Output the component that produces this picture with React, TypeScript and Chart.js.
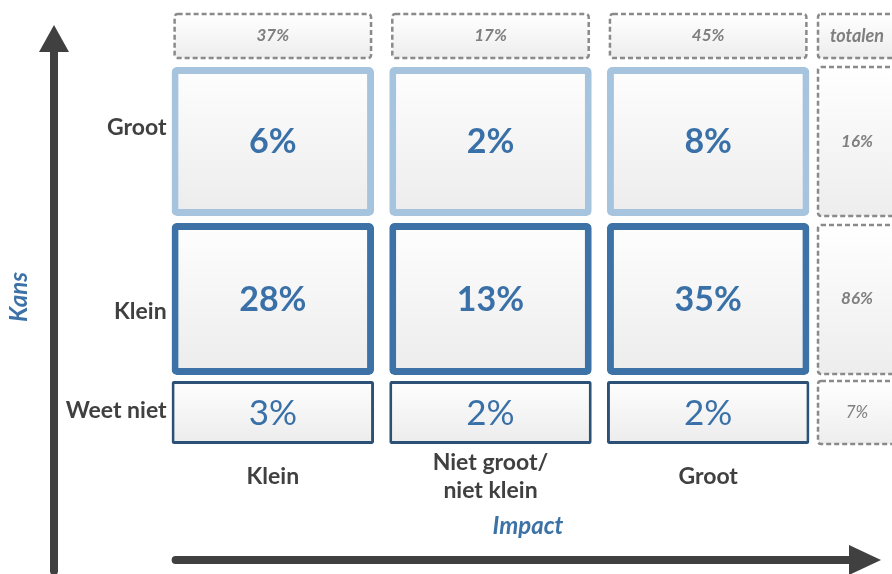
import React, { useEffect, useRef } from 'react';
import { Chart, registerables } from 'chart.js';

Chart.register(...registerables);

// ---------- data ----------
const IMPACT_LABELS = ['Klein', 'Niet groot/\nniet klein', 'Groot'];
const KANS_LABELS = ['Groot', 'Klein', 'Weet niet'];
const ROW_GROOT = [6, 2, 8];
const ROW_KLEIN = [28, 13, 35];
const ROW_WEET_NIET = [3, 2, 2];
const IMPACT_TOTALS = [37, 17, 45];
const KANS_TOTALS = [16, 86, 7];
const TOTALS_LABEL = 'totalen';
const X_TITLE = 'Impact';
const Y_TITLE = 'Kans';

// ---------- layout (y units: 0 = bottom of the lowest row) ----------
const ROW_BANDS: [number, number][] = [[228, 377], [69, 221], [0, 63]];
const TOTALS_BAND: [number, number] = [386, 430];
const Y_MAX = 430;
const ROW_LABEL_POS = [316, 132, 33];
const FONT = 'Lato, "Open Sans", sans-serif';

const ROW_VALUES = [ROW_GROOT, ROW_KLEIN, ROW_WEET_NIET];
const ROW_BORDER = ['#a7c4df', '#3d72a6', '#2d5077'];
const ROW_BORDER_W = [7, 7, 3];

function vGradient(ctx: CanvasRenderingContext2D, top: number, bottom: number, c1: string, c2: string) {
  const g = ctx.createLinearGradient(0, top, 0, bottom);
  g.addColorStop(0, c1);
  g.addColorStop(1, c2);
  return g;
}

const cellFill = (c: any) => {
  const chart = c.chart;
  const y = chart.scales && chart.scales.y;
  if (!y || c.type !== 'data' || !Array.isArray(c.raw)) return '#f4f4f4';
  const top = y.getPixelForValue(c.raw[1]);
  const bottom = y.getPixelForValue(c.raw[0]);
  if (!isFinite(top) || !isFinite(bottom)) return '#f4f4f4';
  return vGradient(chart.ctx, top, bottom, '#fefefe', '#ececec');
};

function dashedBox(ctx: CanvasRenderingContext2D, x: number, y: number, w: number, h: number) {
  ctx.save();
  ctx.beginPath();
  (ctx as any).roundRect(x, y, w, h, 3);
  ctx.fillStyle = vGradient(ctx, y, y + h, '#ffffff', '#ededed');
  ctx.fill();
  ctx.setLineDash([5, 3]);
  ctx.lineWidth = 2.5;
  ctx.strokeStyle = '#8a8a8a';
  ctx.stroke();
  ctx.restore();
}

function arrow(ctx: CanvasRenderingContext2D, x1: number, y1: number, x2: number, y2: number, headLen: number, headHalf: number, lw: number, color: string) {
  const ang = Math.atan2(y2 - y1, x2 - x1);
  const bx = x2 - Math.cos(ang) * headLen;
  const by = y2 - Math.sin(ang) * headLen;
  ctx.save();
  ctx.strokeStyle = color;
  ctx.fillStyle = color;
  ctx.lineWidth = lw;
  ctx.lineCap = 'round';
  ctx.beginPath();
  ctx.moveTo(x1, y1);
  ctx.lineTo(bx + Math.cos(ang) * 2, by + Math.sin(ang) * 2);
  ctx.stroke();
  ctx.beginPath();
  ctx.moveTo(x2, y2);
  ctx.lineTo(bx - Math.sin(ang) * headHalf, by + Math.cos(ang) * headHalf);
  ctx.lineTo(bx + Math.sin(ang) * headHalf, by - Math.cos(ang) * headHalf);
  ctx.closePath();
  ctx.fill();
  ctx.restore();
}

const decorPlugin = {
  id: 'matrixDecor',
  beforeDatasetsDraw(chart: any) {
    const ctx: CanvasRenderingContext2D = chart.ctx;
    const ys = chart.scales.y;
    const area = chart.chartArea;
    const meta = chart.getDatasetMeta(0);
    // top totals row
    const tTop = ys.getPixelForValue(TOTALS_BAND[1]);
    const tBot = ys.getPixelForValue(TOTALS_BAND[0]);
    meta.data.forEach((bar: any) => {
      const w = bar.width - 6;
      dashedBox(ctx, bar.x - w / 2, tTop, w, tBot - tTop);
    });
    // right totals column
    const cx = area.right;
    ROW_BANDS.forEach((band, r) => {
      const top = ys.getPixelForValue(band[1]) + (r === 1 ? 2 : 0);
      const bot = ys.getPixelForValue(band[0]) - (r === 1 ? 1 : 0);
      dashedBox(ctx, cx + 1, top, 90, bot - top);
    });
    // corner "totalen" box
    dashedBox(ctx, cx + 1, tTop, 90, tBot - tTop);
  },
  afterDatasetsDraw(chart: any) {
    const ctx: CanvasRenderingContext2D = chart.ctx;
    const ys = chart.scales.y;
    const area = chart.chartArea;
    ctx.save();
    ctx.textAlign = 'center';
    ctx.textBaseline = 'middle';
    // cell values
    ROW_VALUES.forEach((vals, r) => {
      const meta = chart.getDatasetMeta(r);
      meta.data.forEach((bar: any, i: number) => {
        const cy = (bar.y + bar.base) / 2;
        ctx.fillStyle = '#3a70a8';
        ctx.font = (r < 2 ? 'bold 34px ' : '35px ') + FONT;
        ctx.fillText(vals[i] + '%', bar.x, cy + 1);
      });
    });
    // totals text
    const tMid = (ys.getPixelForValue(TOTALS_BAND[0]) + ys.getPixelForValue(TOTALS_BAND[1])) / 2;
    const meta0 = chart.getDatasetMeta(0);
    ctx.fillStyle = '#7f7f7f';
    ctx.font = 'italic bold 17px ' + FONT;
    meta0.data.forEach((bar: any, i: number) => {
      ctx.fillText(IMPACT_TOTALS[i] + '%', bar.x, tMid);
    });
    const tx = area.right + 40;
    ctx.font = 'italic bold 18px ' + FONT;
    ctx.fillText(TOTALS_LABEL, tx, tMid);
    ROW_BANDS.forEach((band, r) => {
      const mid = (ys.getPixelForValue(band[0]) + ys.getPixelForValue(band[1])) / 2;
      ctx.font = (r < 2 ? 'italic bold 17px ' : 'italic 17px ') + FONT;
      ctx.fillText(KANS_TOTALS[r] + '%', tx, mid);
    });
    // row labels
    ctx.fillStyle = '#404040';
    ctx.font = 'bold 23px ' + FONT;
    ctx.textAlign = 'right';
    const firstBar = meta0.data[0];
    const labelX = firstBar.x - firstBar.width / 2 - 5;
    KANS_LABELS.forEach((lab, r) => {
      ctx.fillText(lab, labelX, ys.getPixelForValue(ROW_LABEL_POS[r]));
    });
    // column labels
    ctx.textAlign = 'center';
    const colY = area.bottom + 33;
    meta0.data.forEach((bar: any, i: number) => {
      const lines = IMPACT_LABELS[i].split('\n');
      const lh = 28;
      lines.forEach((ln, k) => {
        ctx.fillText(ln, bar.x, colY + (k - (lines.length - 1) / 2) * lh);
      });
    });
    // axis titles
    ctx.fillStyle = '#3d72a6';
    ctx.font = 'italic bold 24px ' + FONT;
    ctx.fillText(X_TITLE, 528, area.bottom + 82);
    ctx.save();
    ctx.translate(19, 297);
    ctx.rotate(-Math.PI / 2);
    ctx.fillText(Y_TITLE, 0, 0);
    ctx.restore();
    ctx.restore();
    // arrows
    arrow(ctx, 54, chart.height - 3, 54, 25, 27, 15, 8, '#404040');
    arrow(ctx, firstBar.x - firstBar.width / 2 + 4, area.bottom + 116, 881, area.bottom + 116, 32, 15, 8, '#404040');
  },
};

export default function App() {
  const ref = useRef<HTMLCanvasElement | null>(null);
  useEffect(() => {
    document.body.style.margin = '0';
    if (!ref.current) return;
    const datasets = ROW_VALUES.map((vals, r) => ({
      label: KANS_LABELS[r],
      data: vals.map(() => ROW_BANDS[r]),
      backgroundColor: cellFill,
      borderColor: ROW_BORDER[r],
      borderWidth: ROW_BORDER_W[r],
      borderRadius: r < 2 ? 5 : 2,
      borderSkipped: false as any,
      grouped: false,
      barPercentage: 0.93,
      categoryPercentage: 1,
    }));
    const chart = new Chart(ref.current, {
      type: 'bar',
      data: { labels: IMPACT_LABELS, datasets: datasets as any },
      options: {
        responsive: false,
        animation: false,
        layout: { padding: { left: 164, right: 75, top: 14, bottom: 130 } },
        scales: {
          x: { display: false, type: 'category' },
          y: { display: false, type: 'linear', min: 0, max: Y_MAX },
        },
        plugins: { legend: { display: false }, tooltip: { enabled: false } },
      },
      plugins: [decorPlugin as any],
    });
    return () => chart.destroy();
  }, []);
  return (
    <div style={{ position: 'absolute', left: 0, top: 0, width: 892, height: 574, background: '#fff' }}>
      <canvas ref={ref} width={892} height={574} />
    </div>
  );
}
